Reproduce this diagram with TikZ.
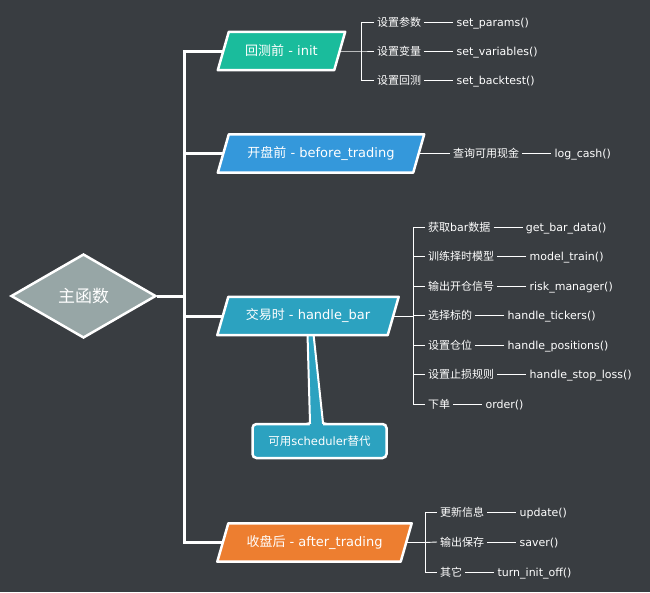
\documentclass[tikz,border=0pt]{standalone}
\usepackage{fontspec}
\setmainfont{DejaVu Sans}
\newfontfamily\cjk{Noto Sans CJK SC}
\usetikzlibrary{shapes.geometric,positioning}
\definecolor{bgc}{RGB}{57,61,65}
\definecolor{cinit}{RGB}{26,188,156}
\definecolor{cbefore}{RGB}{52,152,219}
\definecolor{chandle}{RGB}{44,162,192}
\definecolor{cafter}{RGB}{237,126,48}
\definecolor{cmain}{RGB}{151,166,166}
% #1 name, #2 x, #3 y, #4 width, #5 colour, #6 text
\newcommand\paralbox[6]{%
  \path (#2,#3) node[minimum width=#4, minimum height=38pt, inner sep=0pt] (#1) {};
  \draw[boxline, fill=#5] ([xshift=5.5pt]#1.north west) -- ([xshift=5.5pt]#1.north east)
     -- ([xshift=-5.5pt]#1.south east) -- ([xshift=-5.5pt]#1.south west) -- cycle;
  \node[boxtext] at (#1) {#6};
}
\begin{document}
\begin{tikzpicture}[x=1pt,y=-1pt,
  trunk/.style={white, line width=3pt},
  boxline/.style={white, line width=2.5pt, line join=round},
  boxtext/.style={text=white, font=\fontsize{13}{15}\selectfont, inner sep=0pt},
  leaf/.style={text=white, font=\fontsize{11}{13}\selectfont, inner xsep=3pt, inner ysep=1pt, anchor=west},
  thinline/.style={white, line width=0.9pt}
]
\fill[bgc] (0,0) rectangle (650,592);
\useasboundingbox (0,0) rectangle (650,592);

% main diamond
\node[diamond, draw=white, line width=2.5pt, fill=cmain, minimum width=145pt, minimum height=84pt,
      inner sep=0pt, text=white, font=\cjk\fontsize{17}{19}\selectfont] (main) at (83.5,296) {主函数};

% callout (drawn before handle box)
\node[draw=white, line width=2.5pt, fill=chandle, rounded corners=4pt, minimum width=134pt,
      minimum height=34pt, inner sep=0pt, text=white, font=\fontsize{11.5}{13}\selectfont]
      (note) at (319.5,441) {{\cjk 可用}scheduler{\cjk 替代}};
\fill[chandle] (307.5,334) -- (313.5,334) -- (323,426) -- (310,426) -- cycle;
\draw[white, line width=2pt] (307.5,334) -- (310,423) -- (306,424);
\draw[white, line width=2pt] (313.5,334) -- (323,423) -- (327,424);

% stage boxes
\paralbox{init}{281.5}{51}{116pt}{cinit}{{\cjk 回测前} - init}
\paralbox{before}{321}{153.5}{195pt}{cbefore}{{\cjk 开盘前} - before\_trading}
\paralbox{handle}{308}{316}{170pt}{chandle}{{\cjk 交易时} - handle\_bar}
\paralbox{after}{314.5}{542.5}{183pt}{cafter}{{\cjk 收盘后} - after\_trading}

% trunk
\coordinate (tTop) at (184,51);
\coordinate (tBot) at (184,542.5);
\draw[trunk] (init.west) -- (tTop) -- (tBot) -- (after.west);
\draw[trunk] (tTop |- before.west) -- (before.west);
\draw[trunk] (tTop |- handle.west) -- (handle.west);
\draw[trunk] (main.east) -- (main.east -| tTop);

% init leaves
\coordinate (ib) at (361,51);
\node[leaf] (i1) at (374,22) {\cjk 设置参数};
\node[leaf] (i2) at (374,51) {\cjk 设置变量};
\node[leaf] (i3) at (374,80) {\cjk 设置回测};
\node[leaf, base right=29pt of i1] (fi1) {set\_params()};
\node[leaf, base right=29pt of i2] (fi2) {set\_variables()};
\node[leaf, base right=29pt of i3] (fi3) {set\_backtest()};
\draw[thinline] (init.east) -- (ib) -- (i2.west);
\draw[thinline] (ib) |- (i1.west);
\draw[thinline] (ib) |- (i3.west);
\foreach \k in {1,2,3} \draw[thinline] (i\k.east) -- (i\k.east -| fi\k.west);

% before leaves
\node[leaf] (b1) at (450,153.5) {\cjk 查询可用现金};
\node[leaf, base right=29pt of b1] (fb1) {log\_cash()};
\draw[thinline] (before.east) -- (b1.west);
\draw[thinline] (b1.east) -- (b1.east -| fb1.west);

% handle_bar leaves
\coordinate (hb) at (413,316);
\node[leaf] (h1) at (425,227) {{\cjk 获取}bar{\cjk 数据}};
\node[leaf] (h2) at (425,256.5) {\cjk 训练择时模型};
\node[leaf] (h3) at (425,286) {\cjk 输出开仓信号};
\node[leaf] (h4) at (425,315.5) {\cjk 选择标的};
\node[leaf] (h5) at (425,345) {\cjk 设置仓位};
\node[leaf] (h6) at (425,374.5) {\cjk 设置止损规则};
\node[leaf] (h7) at (425,404) {\cjk 下单};
\node[leaf, base right=29pt of h1] (fh1) {get\_bar\_data()};
\node[leaf, base right=29pt of h2] (fh2) {model\_train()};
\node[leaf, base right=29pt of h3] (fh3) {risk\_manager()};
\node[leaf, base right=29pt of h4] (fh4) {handle\_tickers()};
\node[leaf, base right=29pt of h5] (fh5) {handle\_positions()};
\node[leaf, base right=29pt of h6] (fh6) {handle\_stop\_loss()};
\node[leaf, base right=29pt of h7] (fh7) {order()};
\draw[thinline] (handle.east) -- (hb);
\draw[thinline] (hb) |- (h1.west);
\draw[thinline] (hb) |- (h7.west);
\foreach \k in {2,...,6} \draw[thinline] (hb |- h\k.west) -- (h\k.west);
\foreach \k in {1,...,7} \draw[thinline] (h\k.east) -- (h\k.east -| fh\k.west);

% after leaves
\coordinate (ab) at (425,542.5);
\node[leaf] (a1) at (437,512) {\cjk 更新信息};
\node[leaf] (a2) at (437,542) {\cjk 输出保存};
\node[leaf] (a3) at (437,572) {\cjk 其它};
\node[leaf, base right=29pt of a1] (fa1) {update()};
\node[leaf, base right=29pt of a2] (fa2) {saver()};
\node[leaf, base right=29pt of a3] (fa3) {turn\_init\_off()};
\draw[thinline] (after.east) -- (ab) -- (a2.west);
\draw[thinline] (ab) |- (a1.west);
\draw[thinline] (ab) |- (a3.west);
\foreach \k in {1,2,3} \draw[thinline] (a\k.east) -- (a\k.east -| fa\k.west);
\end{tikzpicture}
\end{document}
